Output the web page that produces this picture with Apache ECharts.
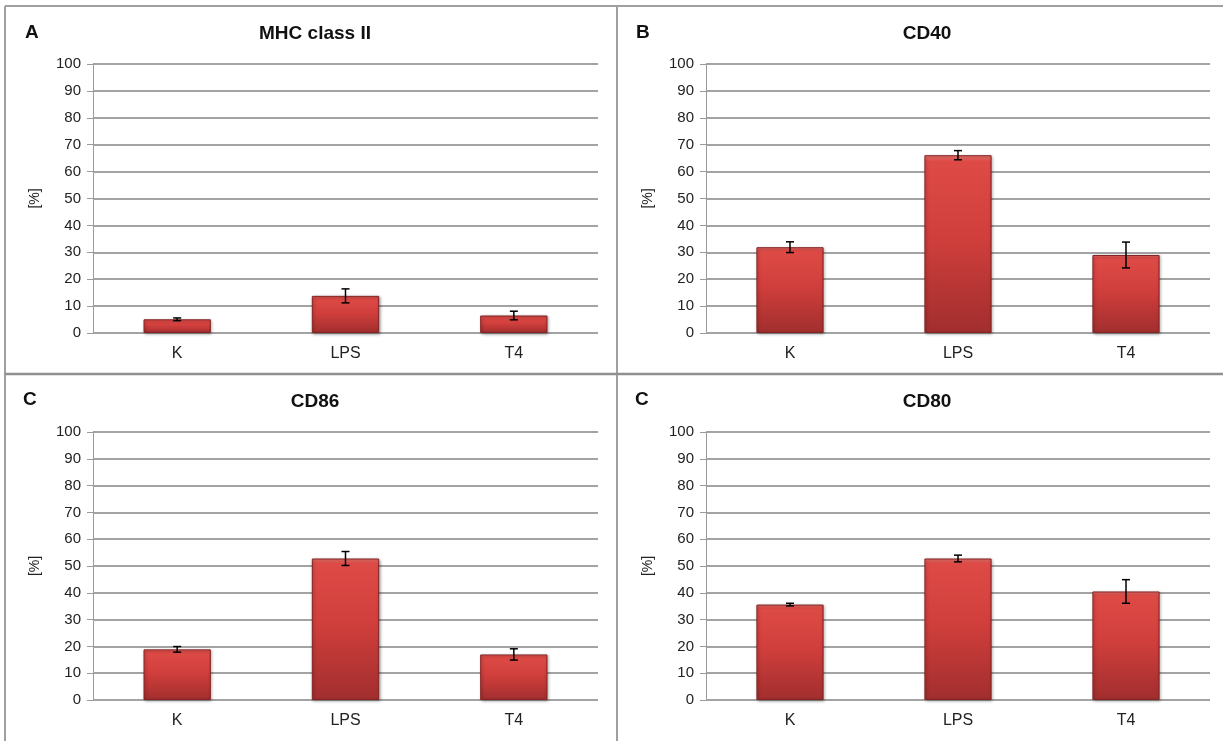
<!DOCTYPE html>
<html>
<head>
<meta charset="utf-8">
<script src="https://cdn.jsdelivr.net/npm/echarts@6/dist/echarts.min.js"></script>
<style>
html,body{margin:0;padding:0;background:#fff;}
#c{width:1223px;height:741px;}
</style>
</head>
<body>
<div id="c"></div>
<script>
const categories = ['K', 'LPS', 'T4'];
const panelLetters = ['A', 'B', 'C', 'C'];
const panelTitles = ['MHC class II', 'CD40', 'CD86', 'CD80'];
const yTicks = [0, 10, 20, 30, 40, 50, 60, 70, 80, 90, 100];
const mhcValues = [5.1, 13.8, 6.5];
const mhcErrors = [0.5, 2.6, 1.6];
const cd40Values = [31.9, 66.1, 29.0];
const cd40Errors = [2.0, 1.7, 4.8];
const cd86Values = [18.9, 52.8, 17.0];
const cd86Errors = [1.05, 2.6, 2.1];
const cd80Values = [35.6, 52.8, 40.5];
const cd80Errors = [0.5, 1.25, 4.4];
const yAxisName = '[%]';

const values = [mhcValues, cd40Values, cd86Values, cd80Values];
const errors = [mhcErrors, cd40Errors, cd86Errors, cd80Errors];

const grids = [
  {left: 93, top: 64, width: 505, height: 269},
  {left: 706, top: 64, width: 504, height: 269},
  {left: 93, top: 432, width: 505, height: 268},
  {left: 706, top: 432, width: 504, height: 268}
];
const letterPos = [[20, 18], [631, 18], [18, 385], [630, 385]];
const titleCenter = [[310, 30], [922, 30], [310, 398], [922, 398]];

const font = '"Liberation Sans", Arial, sans-serif';
const barColor = new echarts.graphic.LinearGradient(0, 0, 0, 1, [
  {offset: 0, color: '#ec7570'},
  {offset: 0.035, color: '#de4b47'},
  {offset: 0.45, color: '#d13f3c'},
  {offset: 1, color: '#a12e2e'}
]);

const option = {
  backgroundColor: '#ffffff',
  animation: false,
  grid: grids.map(g => Object.assign({containLabel: false}, g)),
  title: [],
  xAxis: [],
  yAxis: [],
  series: [],
  graphic: []
};

for (let i = 0; i < 4; i++) {
  option.title.push({
    text: panelTitles[i],
    left: titleCenter[i][0], top: titleCenter[i][1] - 11,
    textAlign: 'center',
    textStyle: {fontFamily: font, fontSize: 19, fontWeight: 'bold', color: '#111'}
  });
  option.title.push({
    text: panelLetters[i],
    left: letterPos[i][0], top: letterPos[i][1],
    textStyle: {fontFamily: font, fontSize: 19, fontWeight: 'bold', color: '#111'}
  });
  option.xAxis.push({
    type: 'category', gridIndex: i, data: categories,
    axisLine: {show: false},
    axisTick: {show: false},
    axisLabel: {fontFamily: font, fontSize: 16, color: '#222', margin: 13}
  });
  option.yAxis.push({
    type: 'value', gridIndex: i, min: 0, max: 100, interval: 10,
    name: yAxisName, nameLocation: 'middle', nameGap: 51, nameRotate: 90,
    nameTextStyle: {fontFamily: font, fontSize: 14, color: '#222'},
    axisLine: {show: true, lineStyle: {color: '#9a9a9a', width: 1}},
    axisTick: {show: true, length: 6, lineStyle: {color: '#9a9a9a'}},
    axisLabel: {fontFamily: font, fontSize: 15, color: '#222', margin: 12,
      formatter: v => yTicks.indexOf(v) >= 0 ? String(v) : ''},
    splitLine: {show: true, lineStyle: {color: '#a3a3a3', width: 2}}
  });
  option.series.push({
    type: 'bar', xAxisIndex: i, yAxisIndex: i,
    data: values[i], barWidth: '40%',
    itemStyle: {color: barColor, borderColor: '#842424', borderWidth: 1,
      shadowColor: 'rgba(0,0,0,0.35)', shadowBlur: 3, shadowOffsetX: 1, shadowOffsetY: 1},
    z: 2
  });
  const errData = values[i].map((v, k) => [k, v - errors[i][k], v + errors[i][k]]);
  option.series.push({
    type: 'custom', xAxisIndex: i, yAxisIndex: i, z: 5,
    data: errData,
    renderItem: function (params, api) {
      const x = api.value(0);
      const lo = api.coord([x, api.value(1)]);
      const hi = api.coord([x, api.value(2)]);
      const w = 4;
      const st = {stroke: '#000', lineWidth: 1.5};
      return {type: 'group', children: [
        {type: 'line', shape: {x1: hi[0], y1: hi[1], x2: lo[0], y2: lo[1]}, style: st},
        {type: 'line', shape: {x1: hi[0] - w, y1: hi[1], x2: hi[0] + w, y2: hi[1]}, style: st},
        {type: 'line', shape: {x1: lo[0] - w, y1: lo[1], x2: lo[0] + w, y2: lo[1]}, style: st}
      ]};
    }
  });
}

// panel frame
const frameStyle = {stroke: '#a0a0a0', lineWidth: 2};
option.graphic = [
  {type: 'line', shape: {x1: 5, y1: 6, x2: 1223, y2: 6}, style: frameStyle},
  {type: 'line', shape: {x1: 5, y1: 6, x2: 5, y2: 741}, style: frameStyle},
  {type: 'line', shape: {x1: 617, y1: 6, x2: 617, y2: 741}, style: frameStyle},
  {type: 'line', shape: {x1: 5, y1: 374, x2: 1223, y2: 374}, style: {stroke: '#909090', lineWidth: 2.5}}
];

const chart = echarts.init(document.getElementById('c'), null, {renderer: 'canvas'});
chart.setOption(option);
</script>
</body>
</html>
